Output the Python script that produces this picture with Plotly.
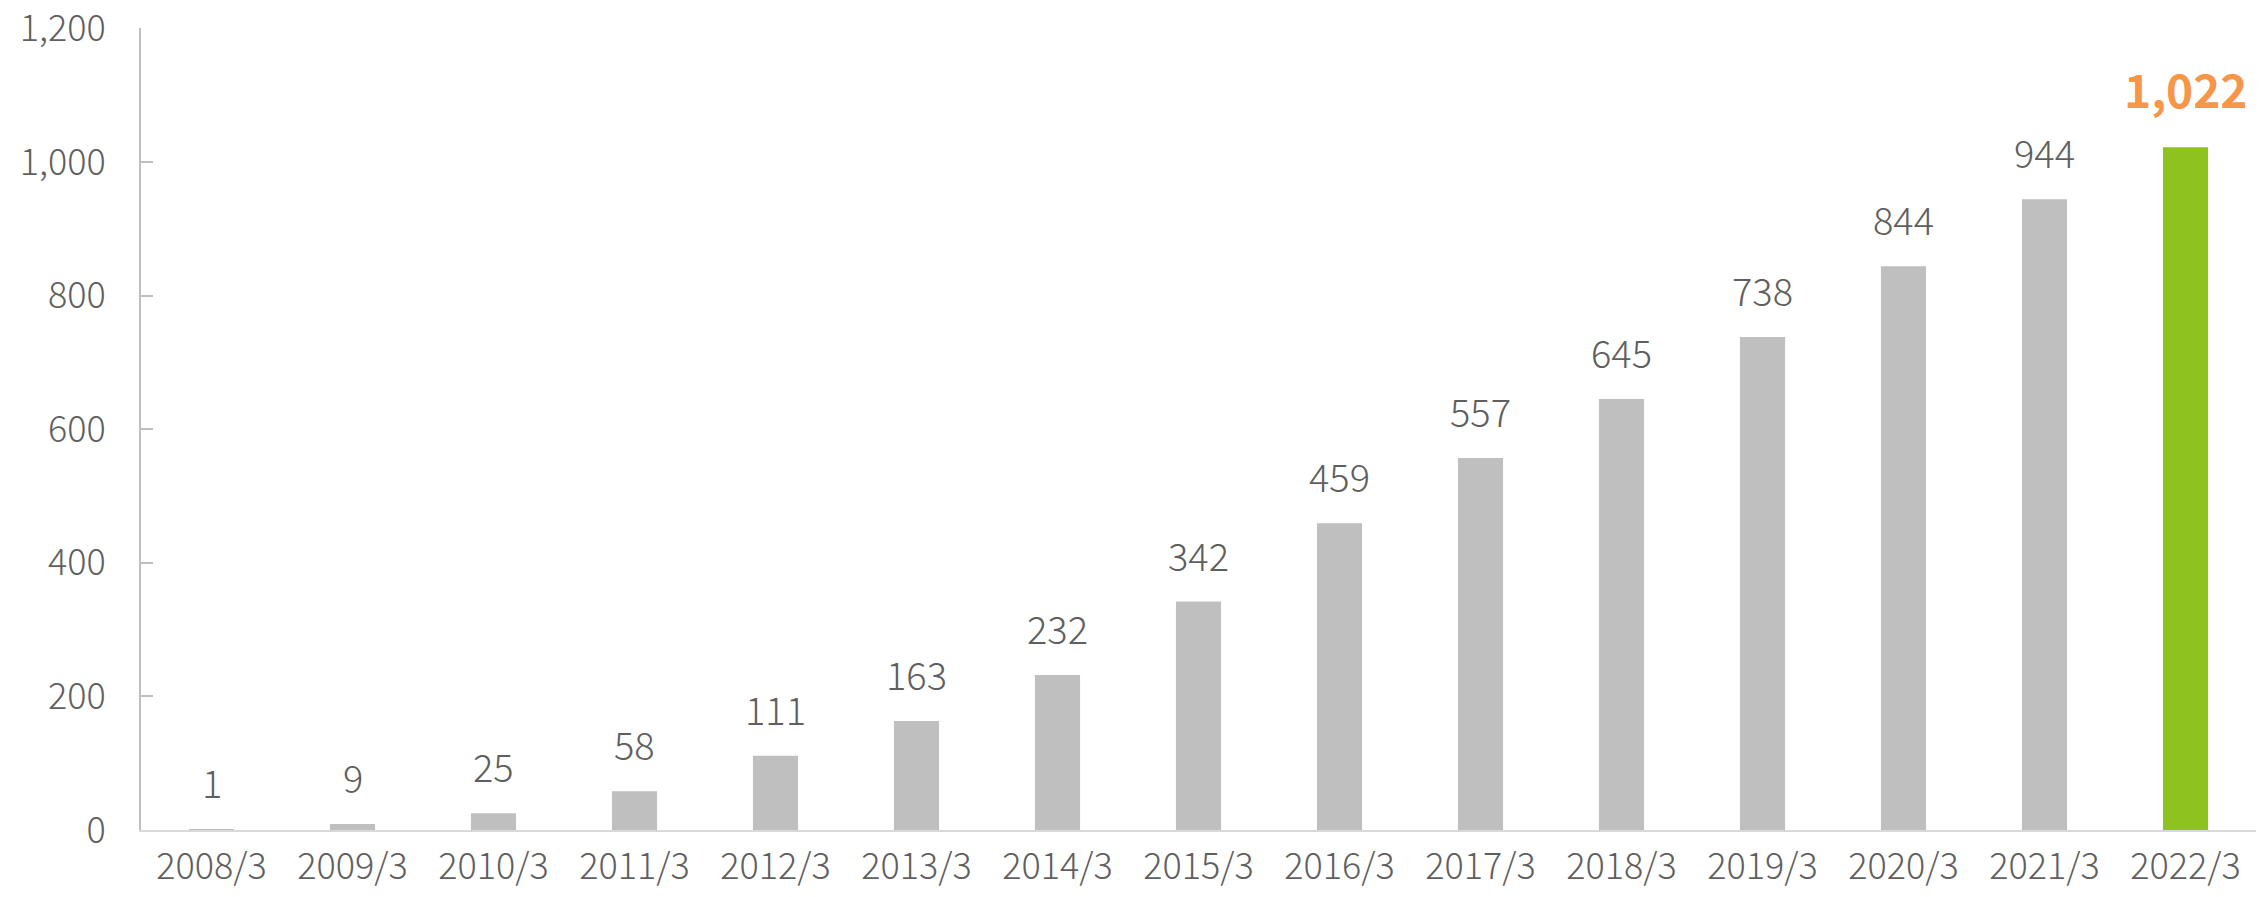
import plotly.graph_objects as go

categories = ["2008/3", "2009/3", "2010/3", "2011/3", "2012/3", "2013/3", "2014/3",
              "2015/3", "2016/3", "2017/3", "2018/3", "2019/3", "2020/3", "2021/3", "2022/3"]
values = [1, 9, 25, 58, 111, 163, 232, 342, 459, 557, 645, 738, 844, 944, 1022]
y_ticks = [0, 200, 400, 600, 800, 1000, 1200]
y_tick_text = ["0", "200", "400", "600", "800", "1,000", "1,200"]

GRAY = "#BFBFBF"
GREEN = "#8DC21F"
ORANGE = "#F79646"
TEXT = "#5F5F5F"
FONT = "Noto Sans CJK JP"
SIZE = 38
TICK_SIZE = 36

colors = [GRAY] * (len(values) - 1) + [GREEN]

fig = go.Figure()
fig.add_trace(go.Bar(x=categories, y=values, marker=dict(color=colors, line=dict(width=0)),
                     hoverinfo="skip"))

for i, (c, v) in enumerate(zip(categories, values)):
    last = i == len(values) - 1
    fig.add_annotation(
        x=c, y=v, yanchor="bottom", xanchor="center", showarrow=False,
        text=f"{v:,}",
        yshift=24 if last else 18,
        font=dict(family=FONT, size=46 if last else SIZE, color=ORANGE if last else TEXT,
                  weight="bold" if last else 300),
    )

fig.update_layout(
    width=2267, height=897,
    margin=dict(l=141, r=11, t=28, b=67, pad=0, autoexpand=False),
    paper_bgcolor="white", plot_bgcolor="white",
    bargap=0.68,
    showlegend=False,
    font=dict(family=FONT, color=TEXT, size=SIZE, weight=300),
)
fig.update_xaxes(
    type="category", showgrid=False, showline=True, linecolor="#D9D9D9", linewidth=2,
    ticks="", tickfont=dict(family=FONT, size=TICK_SIZE, color=TEXT, weight=300), ticklabelstandoff=4,
    automargin=False, ticklabeloverflow="allow",
)
fig.update_yaxes(
    range=[0, 1200.5], tickvals=y_ticks, ticktext=y_tick_text, showgrid=False, zeroline=False,
    showline=True, linecolor=GRAY, linewidth=2, ticks="inside", ticklen=12, tickwidth=2,
    tickcolor=GRAY, tickfont=dict(family=FONT, size=TICK_SIZE, color=TEXT, weight=300), ticklabelstandoff=26,
    automargin=False, ticklabeloverflow="allow",
)

fig.write_html("out.html")
